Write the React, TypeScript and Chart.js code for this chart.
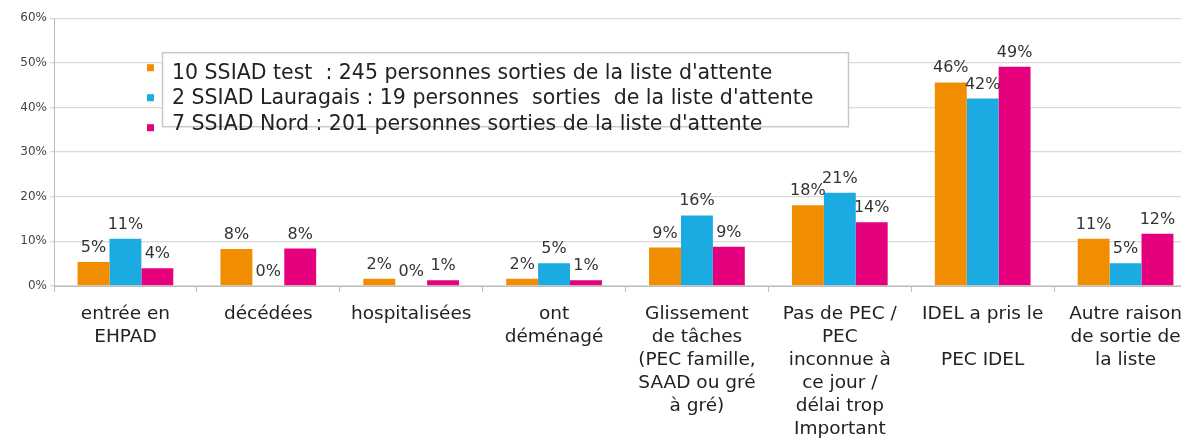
import React, { useEffect, useRef } from 'react';
import { Chart, registerables } from 'chart.js';

Chart.register(...registerables);

const categories: string[][] = [
  ['entrée en', 'EHPAD'],
  ['décédées'],
  ['hospitalisées'],
  ['ont', 'déménagé'],
  ['Glissement', 'de tâches', '(PEC famille,', 'SAAD ou gré', 'à gré)'],
  ['Pas de PEC /', 'PEC', 'inconnue à', 'ce jour /', 'délai trop', 'Important'],
  ['IDEL a pris le', '', 'PEC IDEL'],
  ['Autre raison', 'de sortie de', 'la liste'],
];

const seriesNames = [
  "10 SSIAD test  : 245 personnes sorties de la liste d'attente",
  "2 SSIAD Lauragais : 19 personnes  sorties  de la liste d'attente",
  "7 SSIAD Nord : 201 personnes sorties de la liste d'attente",
];

const ssiadTest = [5.4, 8.3, 1.6, 1.6, 8.6, 18.1, 45.6, 10.6];
const ssiadLauragais = [10.6, 0, 0, 5.1, 15.8, 20.9, 42.0, 5.1];
const ssiadNord = [4.0, 8.4, 1.3, 1.3, 8.8, 14.3, 49.1, 11.7];

const yTicks = [0, 10, 20, 30, 40, 50, 60];

const colors = ['#F18D00', '#1BABE2', '#E5007D'];
const FONT = '"DejaVu Sans", Verdana, sans-serif';

const valueLabels = {
  id: 'valueLabels',
  afterDatasetsDraw(chart: any) {
    const ctx = chart.ctx;
    ctx.save();
    ctx.font = `16px ${FONT}`;
    ctx.fillStyle = '#333333';
    ctx.textAlign = 'center';
    ctx.textBaseline = 'alphabetic';
    chart.data.datasets.forEach((ds: any, i: number) => {
      const meta = chart.getDatasetMeta(i);
      meta.data.forEach((bar: any, j: number) => {
        const v = ds.data[j];
        ctx.fillText(`${Math.round(v)}%`, bar.x, bar.y - 10);
      });
    });
    ctx.restore();
  },
};

const boxLegend = {
  id: 'boxLegend',
  afterDraw(chart: any) {
    const ctx = chart.ctx;
    const a = chart.chartArea;
    ctx.save();
    chart.data.datasets.forEach((ds: any, i: number) => {
      ctx.fillStyle = ds.backgroundColor;
      ctx.fillRect(a.left + 93, a.top + 46 + i * 30, 7, 7);
    });
    const bx = a.left + 108;
    const by = a.top + 34;
    const bw = 686;
    const bh = 74;
    ctx.fillStyle = '#ffffff';
    ctx.fillRect(bx, by, bw, bh);
    ctx.strokeStyle = '#c8c8c8';
    ctx.lineWidth = 1.5;
    ctx.strokeRect(bx + 0.5, by + 0.5, bw, bh);
    ctx.font = `20.5px ${FONT}`;
    ctx.fillStyle = '#222222';
    ctx.textAlign = 'left';
    ctx.textBaseline = 'middle';
    chart.data.datasets.forEach((ds: any, i: number) => {
      ctx.fillText(ds.label, bx + 10, by + 21 + i * 25.5);
    });
    ctx.restore();
  },
};

export default function App() {
  const ref = useRef<HTMLCanvasElement | null>(null);
  useEffect(() => {
    if (!ref.current) return;
    const chart = new Chart(ref.current, {
      type: 'bar',
      data: {
        labels: categories,
        datasets: [
          { label: seriesNames[0], data: ssiadTest, backgroundColor: colors[0] },
          { label: seriesNames[1], data: ssiadLauragais, backgroundColor: colors[1] },
          { label: seriesNames[2], data: ssiadNord, backgroundColor: colors[2] },
        ],
      },
      options: {
        responsive: false,
        animation: false,
        layout: { padding: { top: 4, right: 11, left: 0, bottom: 0 } },
        plugins: { legend: { display: false }, tooltip: { enabled: false } },
        datasets: { bar: { categoryPercentage: 0.67, barPercentage: 1 } },
        scales: {
          x: {
            offset: true,
            grid: { offset: true, drawOnChartArea: false, tickLength: 6, color: '#bdbdbd' },
            border: { color: '#bdbdbd' },
            ticks: {
              color: '#222222',
              font: { family: FONT, size: 18.5, lineHeight: '23px' },
              padding: 11,
              maxRotation: 0,
              autoSkip: false,
            },
            afterFit(scale: any) {
              scale.height = 192;
            },
          },
          y: {
            min: 0,
            max: 60,
            afterBuildTicks(scale: any) {
              scale.ticks = yTicks.map((v) => ({ value: v }));
            },
            grid: { color: '#d9d9d9', tickLength: 4, lineWidth: 1.3 },
            border: { color: '#bdbdbd' },
            ticks: {
              color: '#444444',
              font: { family: FONT, size: 12 },
              padding: 3,
              callback: (v: any) => `${v}%`,
            },
            afterFit(scale: any) {
              scale.width = 46;
            },
          },
        },
      },
      plugins: [valueLabels, boxLegend],
    });
    return () => chart.destroy();
  }, []);
  return (
    <div style={{ width: 1181, height: 440, overflow: 'hidden' }}>
      <canvas ref={ref} width={1200} height={470} style={{ display: 'block' }} />
    </div>
  );
}
